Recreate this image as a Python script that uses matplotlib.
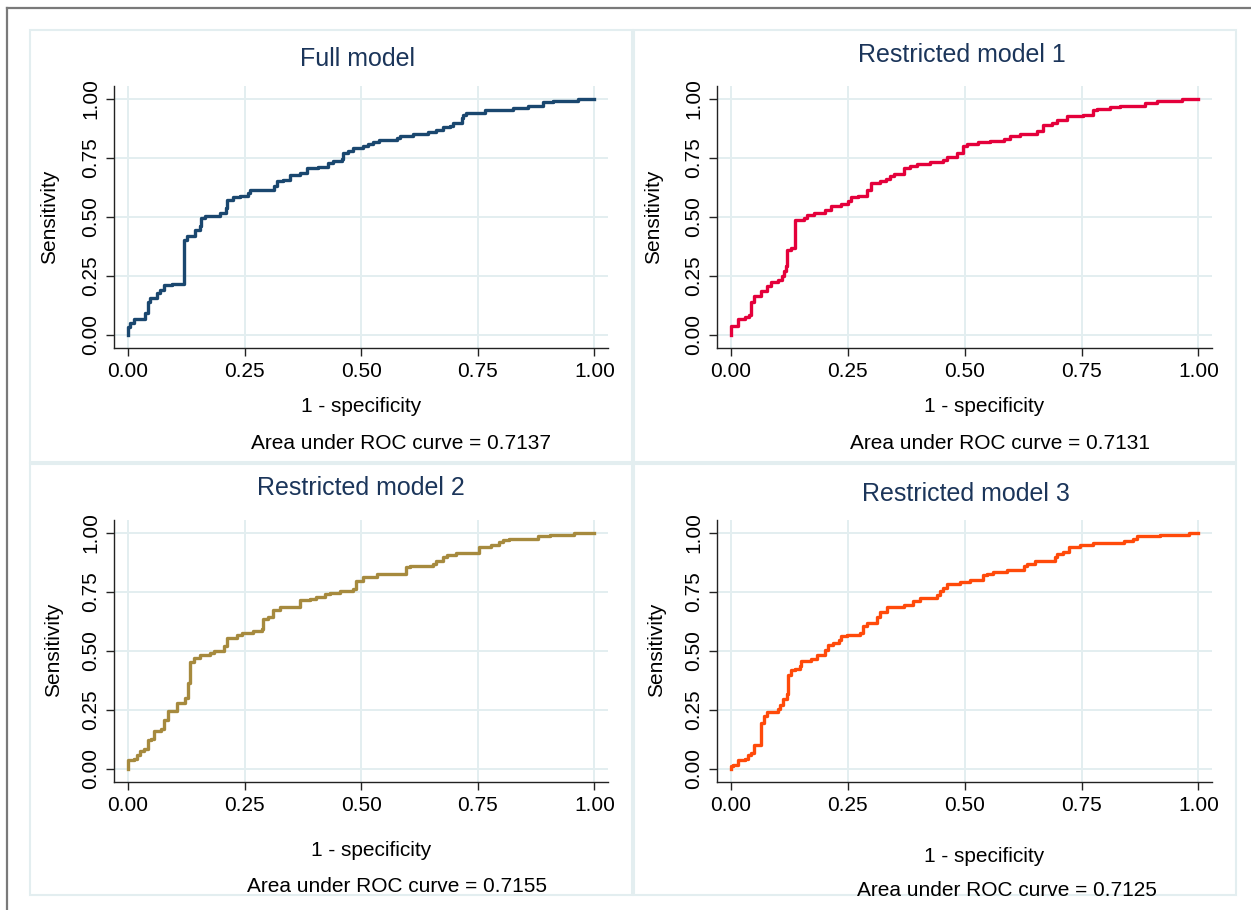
import matplotlib
matplotlib.use('Agg')
import matplotlib.pyplot as plt
from matplotlib.patches import Rectangle

plt.rcParams['font.family'] = ['Liberation Sans', 'DejaVu Sans']

titles = ['Full model', 'Restricted model 1', 'Restricted model 2', 'Restricted model 3']
auc = [0.7137, 0.7131, 0.7155, 0.7125]
colors = ['#1a476f', '#e4003b', '#a68a3e', '#ff4a0a']

fpr_full = [0, 0, 0.005, 0.012, 0.036, 0.043, 0.048, 0.063, 0.069, 0.078, 0.094, 0.119, 0.126,
            0.143, 0.155, 0.157, 0.165, 0.198, 0.203, 0.210, 0.212, 0.226, 0.240, 0.258, 0.262,
            0.312, 0.319, 0.333, 0.347, 0.369, 0.383, 0.408, 0.429, 0.440, 0.458, 0.461, 0.472,
            0.483, 0.504, 0.515, 0.526, 0.539, 0.576, 0.583, 0.611, 0.643, 0.660, 0.675, 0.690,
            0.697, 0.715, 0.718, 0.725, 0.765, 0.825, 0.857, 0.889, 0.911, 0.964, 1.0]
tpr_full = [0, 0.035, 0.05, 0.066, 0.092, 0.141, 0.156, 0.177, 0.19, 0.21, 0.216, 0.40, 0.417,
            0.445, 0.46, 0.495, 0.502, 0.516, 0.516, 0.537, 0.573, 0.584, 0.59, 0.601, 0.612,
            0.629, 0.651, 0.658, 0.679, 0.686, 0.707, 0.711, 0.728, 0.738, 0.747, 0.771, 0.781,
            0.792, 0.799, 0.809, 0.818, 0.827, 0.834, 0.844, 0.853, 0.859, 0.87, 0.88, 0.887,
            0.898, 0.919, 0.934, 0.941, 0.955, 0.962, 0.972, 0.986, 0.993, 1.0, 1.0]

fpr_r1 = [0, 0, 0.014, 0.030, 0.039, 0.043, 0.050, 0.064, 0.078, 0.086, 0.101, 0.108, 0.114,
          0.118, 0.120, 0.128, 0.136, 0.157, 0.162, 0.178, 0.200, 0.214, 0.235, 0.251, 0.257,
          0.271, 0.290, 0.299, 0.319, 0.332, 0.340, 0.349, 0.369, 0.383, 0.397, 0.426, 0.454,
          0.461, 0.483, 0.497, 0.504, 0.528, 0.554, 0.583, 0.597, 0.618, 0.654, 0.668, 0.686,
          0.697, 0.718, 0.754, 0.775, 0.782, 0.811, 0.832, 0.886, 0.911, 0.964, 1.0]
tpr_r1 = [0, 0.038, 0.066, 0.075, 0.085, 0.141, 0.165, 0.187, 0.208, 0.223, 0.233, 0.248, 0.269,
          0.29, 0.361, 0.368, 0.485, 0.495, 0.509, 0.516, 0.53, 0.545, 0.554, 0.566, 0.584,
          0.59, 0.615, 0.644, 0.651, 0.661, 0.672, 0.682, 0.707, 0.717, 0.726, 0.734, 0.743,
          0.754, 0.771, 0.799, 0.81, 0.816, 0.823, 0.83, 0.842, 0.853, 0.863, 0.891, 0.898,
          0.912, 0.926, 0.934, 0.952, 0.958, 0.965, 0.972, 0.983, 0.993, 1.0, 1.0]

fpr_r2 = [0, 0, 0.012, 0.019, 0.026, 0.034, 0.042, 0.049, 0.056, 0.071, 0.078, 0.085, 0.106,
          0.123, 0.128, 0.133, 0.142, 0.155, 0.176, 0.185, 0.205, 0.212, 0.233, 0.244, 0.269,
          0.287, 0.290, 0.301, 0.310, 0.326, 0.369, 0.390, 0.404, 0.422, 0.433, 0.454, 0.483,
          0.489, 0.504, 0.533, 0.596, 0.604, 0.654, 0.660, 0.675, 0.683, 0.703, 0.753, 0.779,
          0.795, 0.804, 0.817, 0.879, 0.904, 0.957, 1.0]
tpr_r2 = [0, 0.038, 0.042, 0.057, 0.075, 0.085, 0.12, 0.127, 0.16, 0.17, 0.208, 0.243, 0.279,
          0.301, 0.365, 0.453, 0.47, 0.484, 0.491, 0.499, 0.519, 0.553, 0.566, 0.576, 0.584,
          0.594, 0.634, 0.644, 0.672, 0.686, 0.717, 0.721, 0.728, 0.74, 0.745, 0.754, 0.764,
          0.796, 0.813, 0.827, 0.856, 0.86, 0.867, 0.88, 0.898, 0.905, 0.917, 0.941, 0.95,
          0.962, 0.969, 0.976, 0.986, 0.993, 1.0, 1.0]

fpr_r3 = [0, 0, 0.005, 0.014, 0.029, 0.036, 0.043, 0.050, 0.064, 0.071, 0.078, 0.100, 0.105,
          0.112, 0.119, 0.121, 0.128, 0.136, 0.148, 0.150, 0.171, 0.183, 0.200, 0.207, 0.219,
          0.230, 0.235, 0.248, 0.276, 0.283, 0.290, 0.312, 0.319, 0.333, 0.369, 0.390, 0.404,
          0.440, 0.447, 0.454, 0.461, 0.490, 0.511, 0.540, 0.547, 0.561, 0.590, 0.626, 0.633,
          0.650, 0.693, 0.697, 0.711, 0.722, 0.747, 0.775, 0.840, 0.861, 0.868, 0.918, 0.979, 1.0]
tpr_r3 = [0, 0.01, 0.018, 0.038, 0.042, 0.057, 0.066, 0.099, 0.195, 0.223, 0.24, 0.252, 0.269,
          0.297, 0.318, 0.396, 0.417, 0.424, 0.438, 0.455, 0.467, 0.484, 0.502, 0.523, 0.535,
          0.545, 0.562, 0.569, 0.576, 0.604, 0.619, 0.644, 0.665, 0.686, 0.693, 0.711, 0.726,
          0.735, 0.752, 0.768, 0.782, 0.792, 0.799, 0.82, 0.827, 0.834, 0.844, 0.859, 0.867,
          0.88, 0.898, 0.912, 0.919, 0.941, 0.948, 0.959, 0.966, 0.976, 0.986, 0.993, 1.0, 1.0]

curves = [(fpr_full, tpr_full), (fpr_r1, tpr_r1), (fpr_r2, tpr_r2), (fpr_r3, tpr_r3)]
ticks = [0, 0.25, 0.5, 0.75, 1.0]
tick_labels = ['0.00', '0.25', '0.50', '0.75', '1.00']

W, H = 1251, 910
fig = plt.figure(figsize=(W / 100, H / 100), dpi=100)

def fx(px):
    return px / W

def fy(py):
    return 1 - py / H

# outer frame (top and left edges visible)
fig.add_artist(plt.Line2D([fx(7), fx(7)], [fy(8), 0], color='#7a7a7a', lw=1.6))
fig.add_artist(plt.Line2D([fx(7), 1], [fy(8), fy(8)], color='#7a7a7a', lw=1.6))

# panel boxes
panels = [(30, 30, 632, 462), (634, 30, 1236, 462), (30, 464, 632, 895), (634, 464, 1236, 895)]
for x0, y0, x1, y1 in panels:
    fig.add_artist(Rectangle((fx(x0), fy(y1)), fx(x1 - x0), (y1 - y0) / H,
                             fill=False, edgecolor='#e3eef0', lw=1.5))

# axes boxes: left, right, top, bottom in pixels
axes_px = [(114, 608, 86, 348), (717, 1212, 86, 348), (114, 608, 520, 782), (717, 1212, 520, 782)]
# text positions: title, xlabel, auc, ylabel
title_pos = [(358, 59), (962, 55), (361, 488), (966, 494)]
xlab_pos = [(361, 407), (984, 407), (371, 850), (984, 856)]
auc_pos = [(401, 443), (1000, 443), (397, 886), (1007, 891)]
ylab_pos = [(50, 217), (654, 217), (54, 650), (657, 650)]

for i in range(4):
    l, r, t, b = axes_px[i]
    ax = fig.add_axes([fx(l), fy(b), (r - l) / W, (b - t) / H])
    fpr, tpr = curves[i]
    ax.plot(fpr, tpr, drawstyle='steps-post', color=colors[i], lw=2.4, zorder=3)
    ax.set_xlim(-0.03, 1.029)
    ax.set_ylim(-0.056, 1.055)
    ax.set_xticks(ticks)
    ax.set_xticklabels(tick_labels, fontsize=15)
    ax.set_yticks(ticks)
    ax.set_yticklabels(tick_labels, fontsize=15, rotation=90, va='center')
    ax.grid(True, color='#e3eef0', lw=1.4, zorder=0)
    ax.set_axisbelow(True)
    for s in ['top', 'right']:
        ax.spines[s].set_visible(False)
    for s in ['left', 'bottom']:
        ax.spines[s].set_linewidth(1.0)
        ax.spines[s].set_color('#222222')
    ax.tick_params(axis='both', length=6, width=1.0, color='#222222', pad=4)

    fig.text(fx(title_pos[i][0]), fy(title_pos[i][1]), titles[i], fontsize=18,
             color='#1b355a', ha='center', va='center')
    fig.text(fx(xlab_pos[i][0]), fy(xlab_pos[i][1]), '1 - specificity', fontsize=15,
             ha='center', va='center')
    fig.text(fx(auc_pos[i][0]), fy(auc_pos[i][1]), 'Area under ROC curve = %.4f' % auc[i],
             fontsize=15, ha='center', va='center')
    fig.text(fx(ylab_pos[i][0]), fy(ylab_pos[i][1]), 'Sensitivity', fontsize=15,
             rotation=90, ha='center', va='center')

fig.savefig('out.png', dpi=100)
